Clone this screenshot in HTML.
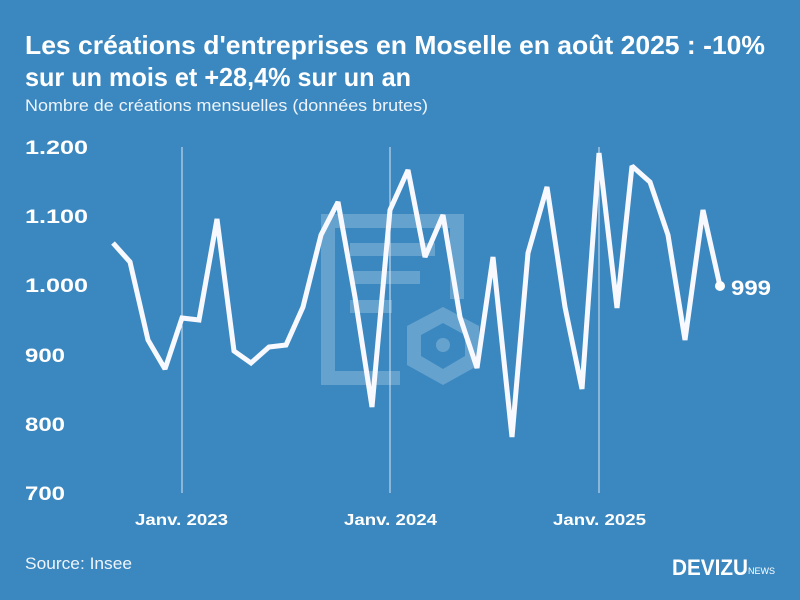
<!DOCTYPE html>
<html><head><meta charset="utf-8"><style>
body{margin:0;width:800px;height:600px;background:#3b88c0;font-family:"Liberation Sans",sans-serif;overflow:hidden}
</style></head><body>
<svg width="800" height="600" xmlns="http://www.w3.org/2000/svg" style="position:absolute;left:0;top:0">
<rect width="800" height="600" fill="#3b88c0"/>
<text x="25" y="54" fill="#fff" font-size="26" font-weight="bold" textLength="740" lengthAdjust="spacingAndGlyphs">Les créations d'entreprises en Moselle en août 2025 : -10%</text>
<text x="25" y="86" fill="#fff" font-size="26" font-weight="bold" textLength="386" lengthAdjust="spacingAndGlyphs">sur un mois et +28,4% sur un an</text>
<text x="25" y="111" fill="#eef4fa" font-size="17" textLength="403" lengthAdjust="spacingAndGlyphs">Nombre de créations mensuelles (données brutes)</text>
<g fill="#fff" opacity="0.22">
<rect x="321" y="214" width="143" height="14"/>
<rect x="321" y="214" width="14" height="171"/>
<rect x="450" y="214" width="14" height="85"/>
<rect x="321" y="371" width="79" height="14"/>
<rect x="350" y="243" width="85" height="13"/>
<rect x="350" y="271" width="70" height="13"/>
<rect x="350" y="300" width="42" height="13"/>
<path d="M443 307 L479 326 L479 365 L443 385 L407 365 L407 326 Z M443 323 L465 335 L465 356 L443 369 L421 356 L421 335 Z" fill-rule="evenodd"/>
<circle cx="443" cy="345" r="7"/>
</g>
<g stroke="#d8e6f2" stroke-width="1">
<line x1="182" y1="147" x2="182" y2="493"/>
<line x1="390" y1="147" x2="390" y2="493"/>
<line x1="599" y1="147" x2="599" y2="493"/>
</g>
<g fill="#fff" font-size="19" font-weight="bold">
<text x="25" y="154" textLength="63" lengthAdjust="spacingAndGlyphs">1.200</text>
<text x="25" y="223" textLength="63" lengthAdjust="spacingAndGlyphs">1.100</text>
<text x="25" y="292" textLength="63" lengthAdjust="spacingAndGlyphs">1.000</text>
<text x="25" y="362" textLength="40" lengthAdjust="spacingAndGlyphs">900</text>
<text x="25" y="431" textLength="40" lengthAdjust="spacingAndGlyphs">800</text>
<text x="25" y="500" textLength="40" lengthAdjust="spacingAndGlyphs">700</text>
</g>
<g fill="#fff" font-size="16" font-weight="bold">
<text x="135" y="525" textLength="93" lengthAdjust="spacingAndGlyphs">Janv. 2023</text>
<text x="344" y="525" textLength="93" lengthAdjust="spacingAndGlyphs">Janv. 2024</text>
<text x="553" y="525" textLength="93" lengthAdjust="spacingAndGlyphs">Janv. 2025</text>
</g>
<polyline fill="none" stroke="#f8f8ff" stroke-width="5" stroke-linejoin="miter" stroke-miterlimit="2" points="113,243 130,262 148,340 165,369 182,318 199,320 217,219 234,351 251,363 269,347 286,345 303,307 321,235 338,202 355,297 372,407 390,210 408,170 425,257 443,215 460,317 477,368 493,257 512,437 528,253 547,187 565,307 582,389 599,153 617,308 632,166 650,182 668,235 685,340 703,210 720,286"/>
<circle cx="720" cy="286" r="5" fill="#fff"/>
<text x="731" y="295" fill="#fff" font-size="21" font-weight="bold" textLength="40" lengthAdjust="spacingAndGlyphs">999</text>
<text x="25" y="569" fill="#eef4fa" font-size="17" textLength="107" lengthAdjust="spacingAndGlyphs">Source: Insee</text>
<text x="672" y="575" fill="#fff" font-size="22" font-weight="bold" textLength="76" lengthAdjust="spacingAndGlyphs">DEVIZU</text>
<text x="748" y="574" fill="#fff" font-size="9">NEWS</text>
</svg>
</body></html>
